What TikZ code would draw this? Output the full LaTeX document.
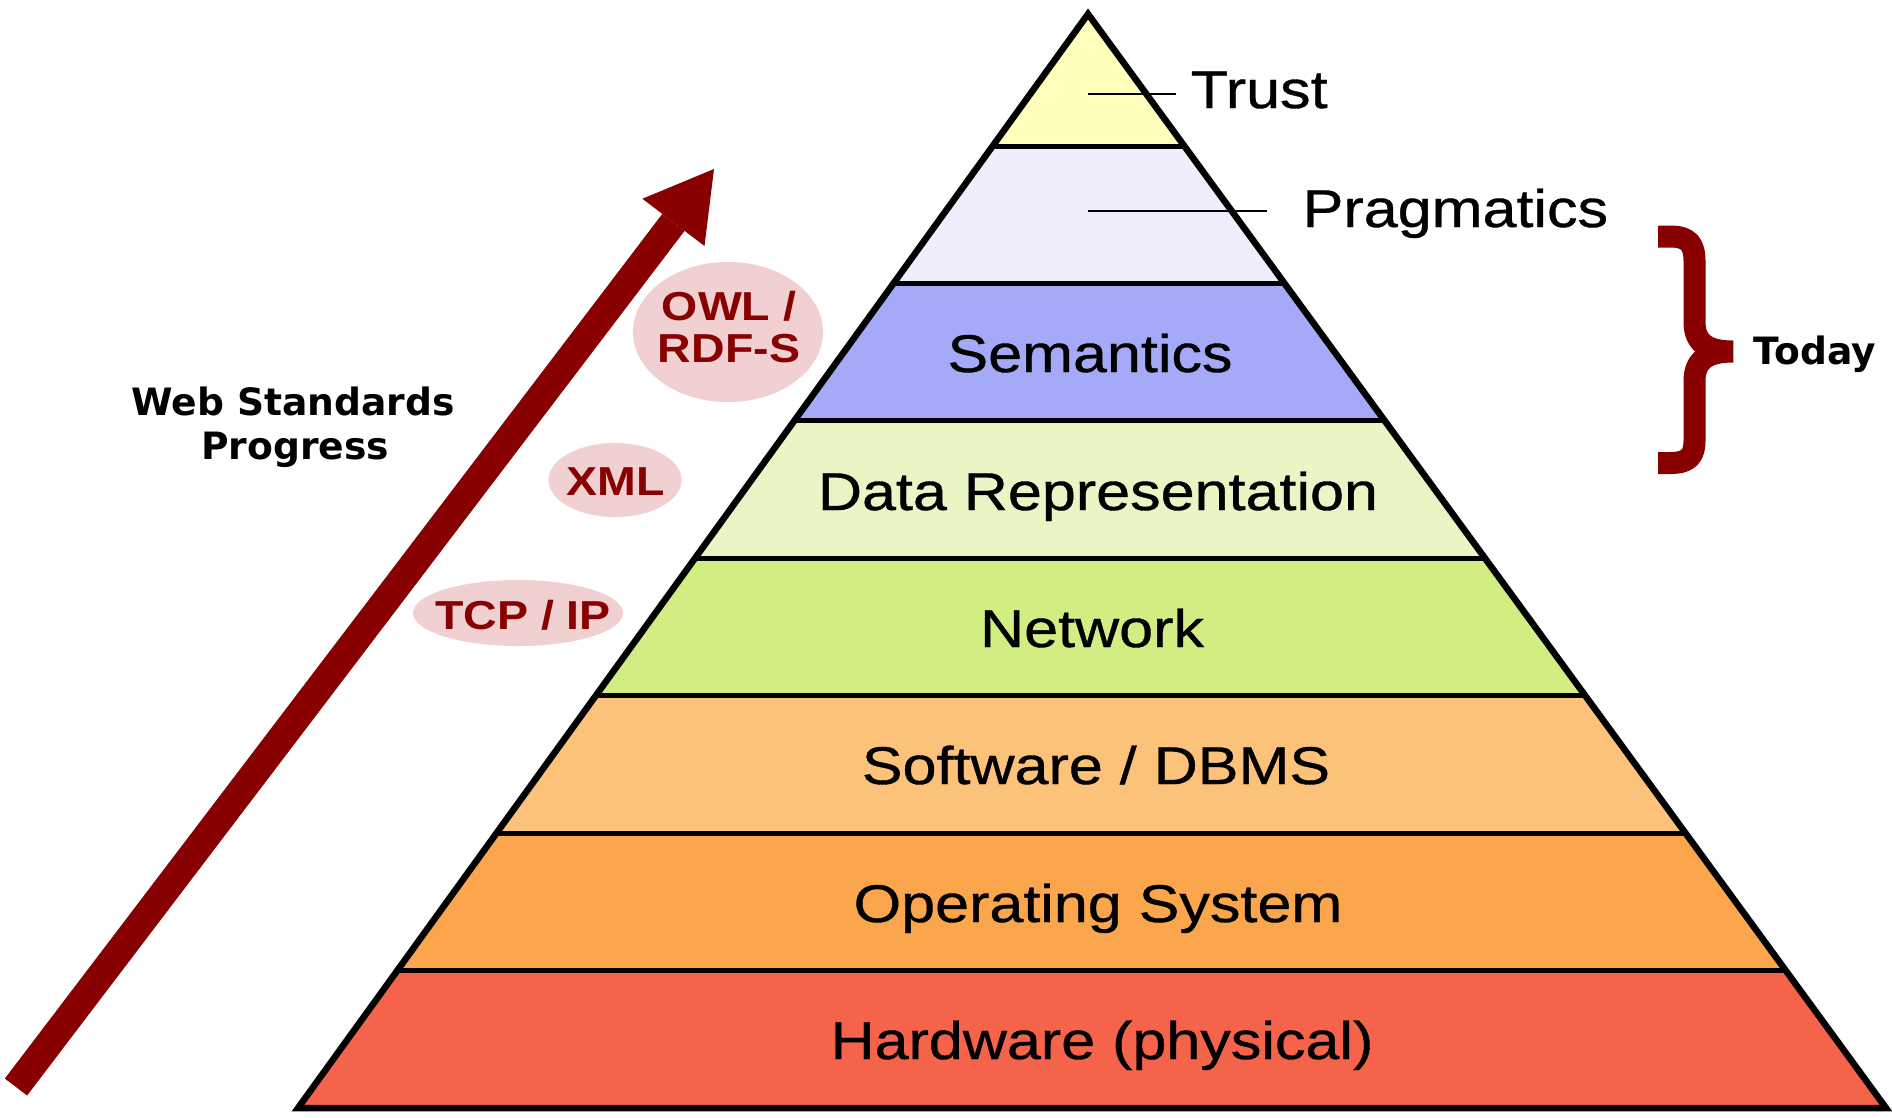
\documentclass[tikz,border=0pt]{standalone}
\usepackage{fontspec}
\setmainfont{Liberation Sans}[FakeStretch=1.15]
\newfontfamily\lblfont{Liberation Sans}[FakeStretch=1.15,FakeBold=0.7]
\newfontfamily\wfont{DejaVu Sans}
\usetikzlibrary{arrows.meta,shapes.geometric}
\definecolor{ctrust}{HTML}{FFFFBB}
\definecolor{cprag}{HTML}{EEEEFC}
\definecolor{csem}{HTML}{A5AAF8}
\definecolor{cdata}{HTML}{E8F5C4}
\definecolor{cnet}{HTML}{D2EE82}
\definecolor{csoft}{HTML}{FCC27A}
\definecolor{cos}{HTML}{FBA64C}
\definecolor{chw}{HTML}{F5634A}
\definecolor{wred}{HTML}{880000}
\definecolor{cpink}{HTML}{F0D0D0}
\begin{document}
\begin{tikzpicture}[x=0.01cm,y=-0.01cm,
  edge/.style={draw=black,line width=0.065cm,line join=miter},
  hline/.style={draw=black,line width=0.05cm},
  pointer/.style={draw=black,line width=0.025cm},
  lbl/.style={inner sep=0pt,font=\fontsize{15.1pt}{18pt}\selectfont\lblfont},
  stdell/.style={ellipse,fill=cpink,draw=none,inner sep=0pt},
  stdtxt/.style={inner sep=0pt,text=wred,align=center,font=\fontsize{11.5pt}{12.2pt}\selectfont\bfseries},
  wtxt/.style={inner sep=0pt,font=\fontsize{10.7pt}{12.5pt}\selectfont\wfont\bfseries},
  brace/.style={draw=wred,line width=0.22cm,line cap=butt,line join=bevel},
  progarrow/.style={draw=wred,line width=0.28cm,-{Triangle[length=0.67cm,width=0.78cm,line width=0pt]}}]
\useasboundingbox (0,0) rectangle (1892,1117);
% layers
\fill[ctrust] (1088,14) -- (1184.3,146) -- (992.7,146) -- cycle;
\fill[cprag] (992.7,146) -- (1184.3,146) -- (1284.5,283.4) -- (893.5,283.4) -- cycle;
\fill[csem] (893.5,283.4) -- (1284.5,283.4) -- (1384.8,420.9) -- (794.2,420.9) -- cycle;
\fill[cdata] (794.2,420.9) -- (1384.8,420.9) -- (1485.0,558.3) -- (694.9,558.3) -- cycle;
\fill[cnet] (694.9,558.3) -- (1485.0,558.3) -- (1585.2,695.7) -- (595.7,695.7) -- cycle;
\fill[csoft] (595.7,695.7) -- (1585.2,695.7) -- (1685.5,833.1) -- (496.5,833.1) -- cycle;
\fill[cos] (496.5,833.1) -- (1685.5,833.1) -- (1785.8,970.6) -- (397.2,970.6) -- cycle;
\fill[chw] (397.2,970.6) -- (1785.8,970.6) -- (1886,1108) -- (298,1108) -- cycle;
\draw[hline] (992.7,146) -- (1184.3,146);
\draw[hline] (893.5,283.4) -- (1284.5,283.4);
\draw[hline] (794.2,420.9) -- (1384.8,420.9);
\draw[hline] (694.9,558.3) -- (1485.0,558.3);
\draw[hline] (595.7,695.7) -- (1585.2,695.7);
\draw[hline] (496.5,833.1) -- (1685.5,833.1);
\draw[hline] (397.2,970.6) -- (1785.8,970.6);
\draw[edge] (1088,14) -- (1886,1108) -- (298,1108) -- cycle;
% layer labels
\node[lbl,anchor=base] (sem) at (1090,372) {Semantics};
\node[lbl,anchor=base] (data) at (1098,510) {Data Representation};
\node[lbl,anchor=base] (net) at (1092,647) {Network};
\node[lbl,anchor=base] (soft) at (1096,784) {Software / DBMS};
\node[lbl,anchor=base] (os) at (1098,922) {Operating System};
\node[lbl,anchor=base] (hw) at (1102,1059) {Hardware (physical)};
% top labels with pointers
\node[lbl,anchor=base west] (trust) at (1190,108) {Trust};
\node[lbl,anchor=base west] (prag) at (1302,227) {Pragmatics};
\coordinate (trustin) at (1088,94);
\coordinate (trustout) at (1176,94);
\coordinate (pragin) at (1088,211);
\coordinate (pragout) at (1267,211);
\draw[pointer] (trustin) -- (trustout);
\draw[pointer] (pragin) -- (pragout);
% standards ellipses
\node[stdell,minimum width=1.90cm,minimum height=1.40cm] (owl) at (728,332) {};
\node[stdtxt] (owlt) at (729,327) {OWL /\\RDF-S};
\node[stdell,minimum width=1.33cm,minimum height=0.74cm] (xml) at (615,480) {};
\node[stdtxt] (xmlt) at (616,482) {XML};
\node[stdell,minimum width=2.10cm,minimum height=0.66cm] (tcp) at (518,613) {};
\node[stdtxt] (tcpt) at (523,615) {TCP / IP};
% progress arrow
\coordinate (atail) at (16,1087);
\coordinate (atip) at (714,169);
\draw[progarrow] (atail) -- (atip);
\node[wtxt,anchor=base] (web1) at (293,415) {Web Standards};
\node[wtxt,anchor=base] (web2) at (295,459) {Progress};
% brace
\draw[brace] (1658,236.5) -- (1670,236.5) .. controls (1689,236.5) and (1694.5,244) .. (1694.5,262) -- (1694.5,322) .. controls (1694.5,342) and (1706,351.5) .. (1733,351.5) .. controls (1706,351.5) and (1694.5,361) .. (1694.5,381) -- (1694.5,440) .. controls (1694.5,456) and (1689,463) .. (1670,463) -- (1658,463);
\node[wtxt,anchor=base west] (today) at (1753,364) {Today};
\end{tikzpicture}
\end{document}
